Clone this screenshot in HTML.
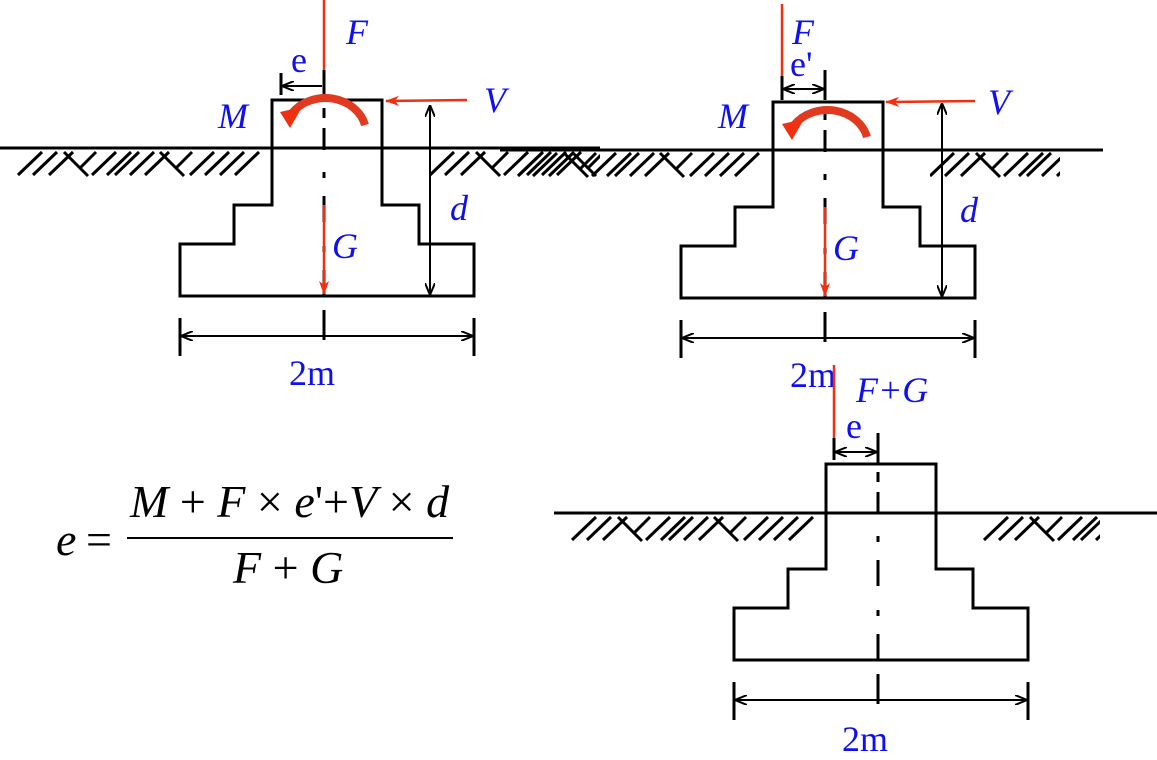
<!DOCTYPE html>
<html><head><meta charset="utf-8"><style>
html,body{margin:0;padding:0;background:#fff;}
svg{display:block;}
.b{stroke:#000;stroke-width:3;fill:none;}
.t{stroke:#000;stroke-width:2;fill:none;}
.h{stroke:#000;stroke-width:3;fill:none;}
.r{stroke:#f03010;stroke-width:2.5;fill:none;}
.lbl{font-family:"Liberation Serif",serif;fill:#1010ee;font-size:36px;}
.it{font-style:italic;}
.fm{font-family:"Liberation Serif",serif;font-size:46px;fill:#000;}
</style></head><body>
<svg width="1157" height="760" viewBox="0 0 1157 760" xmlns="http://www.w3.org/2000/svg">
<defs>
<marker id="ab" markerWidth="12" markerHeight="10" refX="11" refY="5" orient="auto-start-reverse" markerUnits="userSpaceOnUse"><path d="M0,0 L12,5 L0,10" fill="none" stroke="#000" stroke-width="2"/></marker>
<marker id="ar" markerWidth="14" markerHeight="10" refX="13" refY="5" orient="auto" markerUnits="userSpaceOnUse"><path d="M0,0 L14,5 L0,10 L4,5z" fill="#f03010"/></marker>
<clipPath id="c1"><rect x="0" y="140" width="268" height="50"/><rect x="420" y="140" width="180" height="50"/></clipPath>
<clipPath id="c2"><rect x="500" y="140" width="270" height="50"/><rect x="930" y="140" width="130" height="50"/></clipPath>
<clipPath id="c3"><rect x="554" y="505" width="270" height="50"/><rect x="980" y="505" width="120" height="50"/></clipPath>
<g id="hatch">
<path class="h" d="M18,175 L42,152 M33,175 L57,152 M49,175 L73,152 M64,152 L80,168 L96,152 M80,168 L88,176 M92,175 L116,152 M107,175 L131,152 M115,175 L139,152 M130,175 L154,152 M145,175 L169,152 M160,152 L176,168 L192,152 M176,168 L184,176 M190,175 L214,152 M205,175 L229,152 M220,175 L244,152 M235,175 L259,152"/>
</g>
<g id="foot">
<path class="b" d="M272,148 L272,100 L382,100 L382,205 L419,205 L419,244 L474,244 L474,296 L180,296 L180,244 L234,244 L234,205 L272,205 L272,148"/>
<path class="b" d="M324,108 V118 M324,128 V150 M324,172 V178 M324,196 V222 M324,246 V252 M324,270 V296 M324,310 V340"/>
<path class="b" d="M180,318 V356 M474,318 V356"/>
<line class="t" x1="182" y1="336" x2="472" y2="336" marker-start="url(#ab)" marker-end="url(#ab)"/>
</g>
</defs>

<!-- footing 1 -->
<line class="b" x1="0" y1="148" x2="600" y2="148"/>
<g clip-path="url(#c1)"><use href="#hatch"/><use href="#hatch" x="412"/></g>
<use href="#foot"/>
<line class="r" x1="324" y1="0" x2="324" y2="70"/>
<line class="b" x1="324" y1="70" x2="324" y2="98"/>
<path class="b" d="M281,73 V95"/>
<line class="t" x1="322" y1="86" x2="283" y2="86" marker-end="url(#ab)"/>
<text class="lbl" x="291" y="72">e</text>
<text class="lbl it" x="346" y="44">F</text>
<text class="lbl it" x="218" y="128">M</text>
<line class="r" x1="467" y1="100" x2="386" y2="101" marker-end="url(#ar)"/>
<text class="lbl it" x="484" y="112">V</text>
<line class="t" x1="430" y1="106" x2="430" y2="294" marker-start="url(#ab)" marker-end="url(#ab)"/>
<text class="lbl it" x="450" y="220">d</text>
<line class="r" x1="324" y1="205" x2="324" y2="294" marker-end="url(#ar)"/>
<text class="lbl it" x="332" y="258">G</text>
<path d="M365,125 A41,36 0 0 0 292,113" stroke="#e03a20" stroke-width="8" fill="none"/>
<path d="M280,112 L302,107 L290,128z" fill="#f03010"/>
<text class="lbl" x="289" y="385">2m</text>

<!-- footing 2 -->
<line class="b" x1="500" y1="150" x2="1103" y2="150"/>
<g clip-path="url(#c2)"><use href="#hatch" x="500" y="1"/><use href="#hatch" x="912" y="1"/></g>
<use href="#foot" x="501" y="2"/>
<line class="r" x1="782" y1="4" x2="782" y2="76"/>
<line class="b" x1="782" y1="76" x2="782" y2="100"/>
<path class="b" d="M825,70 V100"/>
<line class="t" x1="784" y1="89" x2="823" y2="89" marker-start="url(#ab)" marker-end="url(#ab)"/>
<text class="lbl" x="790" y="76">e'</text>
<text class="lbl it" x="792" y="44">F</text>
<text class="lbl it" x="718" y="128">M</text>
<line class="r" x1="975" y1="101" x2="886" y2="102" marker-end="url(#ar)"/>
<text class="lbl it" x="988" y="114">V</text>
<line class="t" x1="942" y1="104" x2="942" y2="296" marker-start="url(#ab)" marker-end="url(#ab)"/>
<text class="lbl it" x="960" y="222">d</text>
<line class="r" x1="825" y1="207" x2="825" y2="296" marker-end="url(#ar)"/>
<text class="lbl it" x="833" y="260">G</text>
<path d="M867,137 A41,36 0 0 0 794,125" stroke="#e03a20" stroke-width="8" fill="none"/>
<path d="M782,124 L804,119 L792,140z" fill="#f03010"/>
<text class="lbl" x="790" y="387">2m</text>

<!-- footing 3 -->
<line class="b" x1="554" y1="513" x2="1157" y2="513"/>
<g clip-path="url(#c3)"><use href="#hatch" x="554" y="365"/><use href="#hatch" x="966" y="365"/></g>
<use href="#foot" x="554" y="364"/>
<line class="r" x1="834" y1="365" x2="834" y2="445"/>
<line class="b" x1="834" y1="438" x2="834" y2="460"/>
<path class="b" d="M878,433 V464"/>
<line class="t" x1="836" y1="452" x2="876" y2="452" marker-start="url(#ab)" marker-end="url(#ab)"/>
<text class="lbl" x="846" y="438">e</text>
<text class="lbl it" x="856" y="402">F+G</text>
<text class="lbl" x="842" y="751">2m</text>

<!-- formula -->
<text class="fm" x="56" y="555" font-style="italic">e</text>
<text class="fm" x="86" y="555">=</text>
<line x1="127" y1="538" x2="453" y2="538" stroke="#000" stroke-width="2"/>
<text class="fm" x="130" y="517"><tspan font-style="italic">M</tspan> + <tspan font-style="italic">F</tspan> × <tspan font-style="italic">e</tspan>'+<tspan font-style="italic">V</tspan> × <tspan font-style="italic">d</tspan></text>
<text class="fm" x="233" y="583"><tspan font-style="italic">F</tspan> + <tspan font-style="italic">G</tspan></text>
</svg>
</body></html>
